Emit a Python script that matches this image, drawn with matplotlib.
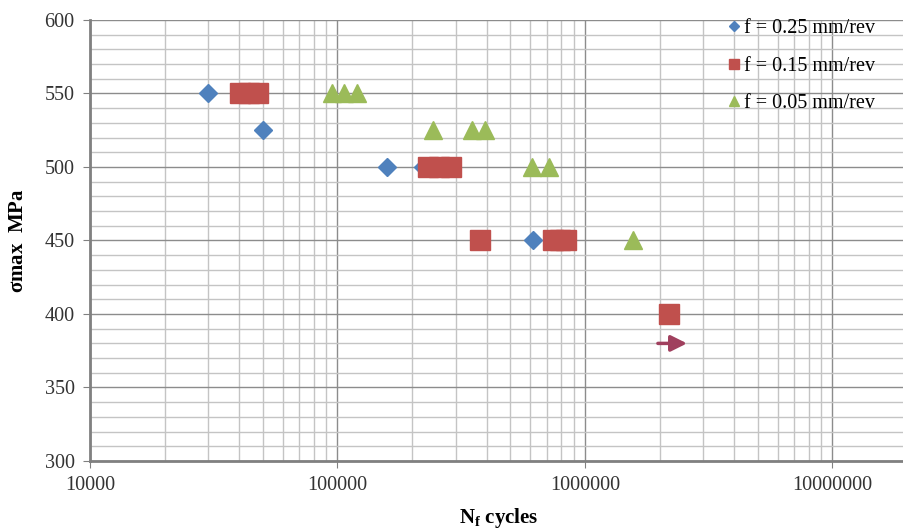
"""Fatigue S-N data for three feed rates, log cycles axis."""

import numpy as np

import matplotlib
matplotlib.use('Agg')
import matplotlib.pyplot as plt
from matplotlib.ticker import LogLocator, FixedLocator, NullFormatter

plt.rcParams['font.family'] = ['Liberation Serif', 'DejaVu Serif']
plt.rcParams['mathtext.fontset'] = 'custom'
plt.rcParams['mathtext.rm'] = 'Liberation Serif'
plt.rcParams['mathtext.bf'] = 'Liberation Serif:bold'

# data
blue_x = [30000, 50000, 158000, 222000, 615000]
blue_y = [550, 525, 500, 500, 450]

red_x = [40500, 44000, 47700, 232000, 258000, 288000, 378000, 740000, 790000, 838000, 2180000]
red_y = [550, 550, 550, 500, 500, 500, 450, 450, 450, 450, 400]

green_x = [95000, 106000, 120000, 243000, 350000, 395000, 611000, 716000, 1560000]
green_y = [550, 550, 550, 525, 525, 525, 500, 500, 450]

labels = ['f = 0.25 mm/rev', 'f = 0.15 mm/rev', 'f = 0.05 mm/rev']

# run-out arrow (specimen did not fail)
arrow_x = [1920000, 2650000]
arrow_y = 380

x_ticks = [10000, 100000, 1000000, 10000000]
y_ticks = [300, 350, 400, 450, 500, 550, 600]

fig = plt.figure(figsize=(9.04, 5.29), dpi=100)
ax = fig.add_axes([90/904, 1 - 461/529, 1 - 90/904, 441/529])

ax.set_xscale('log')
ax.set_xlim(10000, 10**(4 + (904 - 90)/247.5))
ax.set_ylim(300, 600)

ax.plot(blue_x, blue_y, 'D', color='#4f81bd', ms=9.5, mec='#4f81bd', label=labels[0], zorder=3)
ax.plot(red_x, red_y, 's', color='#c0504d', ms=14, mec='#c0504d', label=labels[1], zorder=4)
ax.plot(green_x, green_y, '^', color='#9bbb59', ms=13, mec='#9bbb59', label=labels[2], zorder=5)

ax.annotate('', xy=(arrow_x[1], arrow_y), xytext=(arrow_x[0], arrow_y),
            arrowprops=dict(arrowstyle='-|>', color='#a0405e', lw=2.5, mutation_scale=24),
            zorder=6)

# grid
ax.xaxis.set_major_locator(FixedLocator(x_ticks))
ax.xaxis.set_minor_locator(LogLocator(base=10, subs=np.arange(2, 10)))
ax.xaxis.set_minor_formatter(NullFormatter())
ax.set_xticklabels([str(t) for t in x_ticks])
ax.yaxis.set_major_locator(FixedLocator(y_ticks))
ax.yaxis.set_minor_locator(FixedLocator(np.arange(300, 601, 10)))

ax.grid(which='major', color='#8c8c8c', lw=1.0)
ax.grid(which='minor', color='#c4c4c4', lw=1.0)
ax.set_axisbelow(True)

for s in ['top', 'right']:
    ax.spines[s].set_visible(False)
ax.spines['left'].set_color('#808080')
ax.spines['left'].set_linewidth(2)
ax.spines['bottom'].set_color('#808080')
ax.spines['bottom'].set_linewidth(2)

ax.tick_params(which='major', axis='y', length=5, color='#808080', labelsize=14.5, pad=6)
ax.tick_params(which='major', axis='x', length=5, color='#808080', labelsize=14.5, pad=6)
ax.tick_params(which='minor', length=0)
ax.tick_params(axis='both', labelcolor='#333333')

ax.set_ylabel(r'$\mathbf{\sigma max}$  MPa', fontsize=15, fontweight='bold')
ax.yaxis.set_label_coords(-62/814, 0.5)
ax.set_xlabel(r'$\mathbf{N_f}$ cycles', fontsize=15, fontweight='bold', va='center')
ax.xaxis.set_label_coords((499 - 90)/814, -(518 - 461)/441)

leg = ax.legend(loc='upper left', bbox_to_anchor=(718/904, 1 - 9/529),
                bbox_transform=fig.transFigure, frameon=False, fontsize=14.5,
                markerscale=0.55, handlelength=0.6, handletextpad=0.2,
                labelspacing=0.92, borderpad=0)

plt.savefig('out.png', dpi=100)
